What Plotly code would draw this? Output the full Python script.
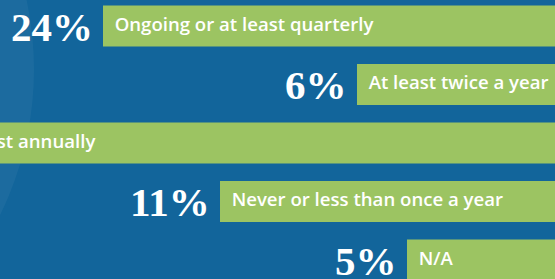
import plotly.graph_objects as go

categories = ["Ongoing or at least quarterly", "At least twice a year", "At least annually",
              "Never or less than once a year", "N/A"]
percents = [24, 6, 54, 11, 5]
pct_labels = ["24%", "6%", "54%", "11%", "5%"]
# bar lengths as drawn in the graphic (not proportional to the percentages)
bar_lengths = [497, 243, 666, 380, 193]

BG = "#12659b"
GREEN = "#9cc462"

fig = go.Figure()
fig.add_trace(go.Bar(
    y=categories, x=bar_lengths, orientation="h",
    marker=dict(color=GREEN, line=dict(width=0)),
    width=0.70, hoverinfo="skip", showlegend=False,
))
fig.add_trace(go.Scatter(
    y=categories, x=bar_lengths, mode="markers+text", text=categories,
    marker=dict(size=17, opacity=0),
    textposition="middle right", cliponaxis=True,
    textfont=dict(family="Open Sans", size=18.6, color="white", weight=600),
    hoverinfo="skip", showlegend=False,
))

for cat, L, pl in zip(categories, bar_lengths, pct_labels):
    fig.add_annotation(x=L, y=cat, xref="x", yref="y", text=pl, showarrow=False,
                       xanchor="right", yanchor="middle", xshift=-8, yshift=-1,
                       font=dict(family="Liberation Serif", size=41, color="white", weight="bold"))

fig.add_shape(type="circle", xref="paper", yref="paper",
              x0=(-295 - 329) / 555, x1=(-295 + 329) / 555,
              y0=1 - (69.5 + 329) / 279, y1=1 - (69.5 - 329) / 279,
              fillcolor="rgba(255,255,255,0.045)", line=dict(width=0), layer="below")

fig.update_layout(
    width=555, height=279, margin=dict(l=0, r=0, t=0, b=0),
    paper_bgcolor=BG, plot_bgcolor="rgba(0,0,0,0)",
    xaxis=dict(range=[600, 45], visible=False, fixedrange=True),
    yaxis=dict(range=[4.325, -0.444], visible=False, fixedrange=True),
    bargap=0.3,
)

fig.write_html("out.html", config={"displayModeBar": False},
               post_script="document.body.style.margin='0';document.body.style.background='%s';" % BG)
